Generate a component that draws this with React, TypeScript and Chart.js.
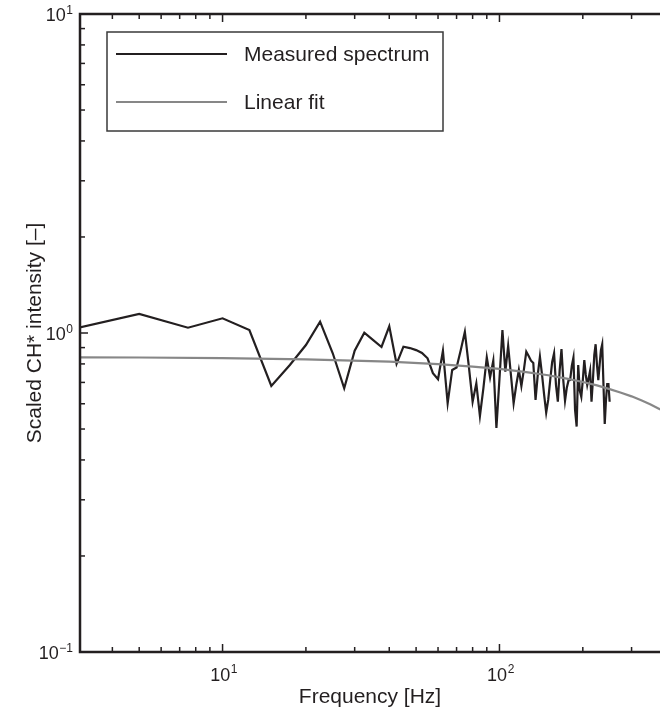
import { useEffect, useRef } from 'react';
import { Chart, registerables } from 'chart.js';

Chart.register(...registerables);

const FONT = '"Liberation Sans", Arial, Helvetica, sans-serif';
const INK = '#231f20';
const GREY = '#878787';

// Measured spectrum: frequency [Hz] and scaled CH* intensity
const freqHz = [
  2.5, 5, 7.5, 10, 12.5, 15, 17.5, 20, 22.5, 25,
  27.5, 30, 32.5, 35, 37.5, 40, 42.5, 45, 47.5, 50,
  52.5, 55, 57.5, 60, 62.5, 65, 67.5, 70, 72.5, 75,
  77.5, 80, 82.5, 85, 87.5, 90, 92.5, 95, 97.5, 100,
  102.5, 105, 107.5, 110, 112.5, 115, 117.5, 120, 122.5, 125,
  127.5, 130, 132.5, 135, 137.5, 140, 142.5, 145, 147.5, 150,
  152.5, 155, 157.5, 160, 162.5, 165, 167.5, 170, 172.5, 175,
  177.5, 180, 182.5, 185, 187.5, 190, 192.5, 195, 197.5, 200,
  202.5, 205, 207.5, 210, 212.5, 215, 217.5, 220, 222.5, 225,
  227.5, 230, 232.5, 235, 237.5, 240, 242.5, 245, 247.5, 250,
];
const measured = [
  1.0, 1.147, 1.039, 1.112, 1.022, 0.682, 0.794, 0.917, 1.085, 0.864,
  0.671, 0.88, 1.002, 0.95, 0.904, 1.05, 0.8, 0.906, 0.897, 0.884,
  0.866, 0.833, 0.748, 0.716, 0.88, 0.602, 0.766, 0.78, 0.884, 1.009,
  0.788, 0.609, 0.695, 0.549, 0.672, 0.839, 0.726, 0.819, 0.504, 0.718,
  1.022, 0.756, 0.912, 0.739, 0.602, 0.687, 0.766, 0.682, 0.766, 0.874,
  0.847, 0.819, 0.805, 0.617, 0.739, 0.843, 0.739, 0.64, 0.563, 0.617,
  0.712, 0.811, 0.864, 0.687, 0.609, 0.766, 0.891, 0.712, 0.613, 0.672,
  0.709, 0.712, 0.788, 0.837, 0.574, 0.509, 0.794, 0.66, 0.631, 0.712,
  0.823, 0.739, 0.687, 0.722, 0.762, 0.609, 0.712, 0.853, 0.922, 0.794,
  0.712, 0.794, 0.884, 0.922, 0.687, 0.519, 0.617, 0.692, 0.692, 0.609,
];

// Linear fit
const fitFreqHz = [2.5, 5, 10, 20, 40, 60, 80, 100, 125, 150, 175, 200, 225, 250, 275, 300, 325, 350, 375, 400];
const fitValues = [0.839, 0.838, 0.834, 0.827, 0.813, 0.799, 0.785, 0.772, 0.754, 0.737, 0.719, 0.702, 0.685, 0.667, 0.65, 0.633, 0.615, 0.598, 0.58, 0.563];

const seriesLabels = ['Measured spectrum', 'Linear fit'];

// Axes
const xMin = 3.056;
const xMax = 380;
const yMin = 0.1;
const yMax = 10;
const xMajorTicks = [10, 100];
const xMajorExponents = ['1', '2'];
const xMinorTicks = [4, 5, 6, 7, 8, 9, 20, 30, 40, 50, 60, 70, 80, 90, 200, 300];
const yMajorTicks = [0.1, 1, 10];
const yMajorExponents = ['\u22121', '0', '1'];
const yMinorTicks = [0.2, 0.3, 0.4, 0.5, 0.6, 0.7, 0.8, 0.9, 2, 3, 4, 5, 6, 7, 8, 9];

const xTitle = 'Frequency [Hz]';
const yTitle = 'Scaled CH* intensity [\u2013]';

const framePlugin = {
  id: 'inwardFrame',
  afterDatasetsDraw(chart: any) {
    const { ctx, chartArea: a, scales } = chart;
    const sx = scales.x;
    const sy = scales.y;
    ctx.save();
    ctx.strokeStyle = INK;
    ctx.fillStyle = INK;

    // frame (left, bottom, top; right edge lies outside the picture)
    ctx.lineWidth = 2.5;
    ctx.beginPath();
    ctx.moveTo(a.right + 4, a.top);
    ctx.lineTo(a.left, a.top);
    ctx.lineTo(a.left, a.bottom);
    ctx.lineTo(a.right + 4, a.bottom);
    ctx.stroke();

    ctx.lineWidth = 1.5;
    const seg = (x1: number, y1: number, x2: number, y2: number) => {
      ctx.beginPath();
      ctx.moveTo(x1, y1);
      ctx.lineTo(x2, y2);
      ctx.stroke();
    };
    xMajorTicks.forEach((v) => {
      const x = sx.getPixelForValue(v);
      seg(x, a.bottom, x, a.bottom - 8);
      seg(x, a.top, x, a.top + 8);
    });
    xMinorTicks.forEach((v) => {
      const x = sx.getPixelForValue(v);
      if (x < a.left || x > a.right) return;
      seg(x, a.bottom, x, a.bottom - 5);
      seg(x, a.top, x, a.top + 5);
    });
    yMajorTicks.forEach((v) => {
      const y = sy.getPixelForValue(v);
      seg(a.left, y, a.left + 8, y);
    });
    yMinorTicks.forEach((v) => {
      const y = sy.getPixelForValue(v);
      seg(a.left, y, a.left + 5, y);
    });

    // power-of-ten labels
    const baseFont = `18px ${FONT}`;
    const expFont = `12px ${FONT}`;
    ctx.textBaseline = 'middle';
    yMajorTicks.forEach((v, i) => {
      const y = sy.getPixelForValue(v) + 2.5;
      const exp = yMajorExponents[i];
      ctx.font = expFont;
      const ew = ctx.measureText(exp).width;
      const right = a.left - 7;
      ctx.textAlign = 'left';
      ctx.fillText(exp, right - ew, y - 6);
      ctx.font = baseFont;
      ctx.textAlign = 'right';
      ctx.fillText('10', right - ew - 0.5, y);
    });
    xMajorTicks.forEach((v, i) => {
      const x = sx.getPixelForValue(v);
      const y = 676;
      const exp = xMajorExponents[i];
      ctx.font = baseFont;
      const bw = ctx.measureText('10').width;
      ctx.font = expFont;
      const ew = ctx.measureText(exp).width;
      const start = x - (bw + ew) / 2 + 1;
      ctx.font = baseFont;
      ctx.textAlign = 'left';
      ctx.fillText('10', start, y);
      ctx.font = expFont;
      ctx.fillText(exp, start + bw + 0.5, y - 6);
    });

    // legend box
    const box = { l: 107, t: 32, r: 443, b: 131 };
    ctx.lineWidth = 1.5;
    ctx.strokeStyle = '#3a3a3a';
    ctx.fillStyle = '#ffffff';
    ctx.fillRect(box.l, box.t, box.r - box.l, box.b - box.t);
    ctx.strokeRect(box.l, box.t, box.r - box.l, box.b - box.t);
    const rows = [54, 102];
    chart.data.datasets.forEach((ds: any, i: number) => {
      const y = rows[i];
      ctx.strokeStyle = ds.borderColor;
      ctx.lineWidth = 2;
      seg(116, y, 227, y);
      ctx.fillStyle = INK;
      ctx.font = `21px ${FONT}`;
      ctx.textAlign = 'left';
      ctx.textBaseline = 'middle';
      ctx.fillText(ds.label, 244, y + 1);
    });
    ctx.restore();
  },
};

export default function App() {
  const ref = useRef<HTMLCanvasElement>(null);
  useEffect(() => {
    if (!ref.current) return;
    const chart = new Chart(ref.current, {
      type: 'line',
      data: {
        datasets: [
          {
            label: seriesLabels[0],
            data: freqHz.map((f, i) => ({ x: f, y: measured[i] })),
            borderColor: INK,
            borderWidth: 2.2,
            pointRadius: 0,
            tension: 0,
            order: 1,
          },
          {
            label: seriesLabels[1],
            data: fitFreqHz.map((f, i) => ({ x: f, y: fitValues[i] })),
            borderColor: GREY,
            borderWidth: 2.2,
            pointRadius: 0,
            tension: 0,
            order: 0,
          },
        ],
      },
      options: {
        responsive: true,
        maintainAspectRatio: false,
        animation: false,
        events: [],
        layout: { padding: { top: 14, right: 0, left: 0, bottom: 0 } },
        plugins: { legend: { display: false }, tooltip: { enabled: false } },
        scales: {
          x: {
            type: 'logarithmic',
            position: 'bottom',
            min: xMin,
            max: xMax,
            grid: { display: false },
            border: { display: false },
            ticks: { display: false },
            afterFit: (s: any) => {
              s.height = 61;
            },
            title: {
              display: true,
              text: xTitle,
              color: INK,
              font: { family: FONT, size: 21 },
              padding: { top: 0, bottom: 3 },
            },
          },
          y: {
            type: 'logarithmic',
            position: 'left',
            min: yMin,
            max: yMax,
            grid: { display: false },
            border: { display: false },
            ticks: { display: false },
            afterFit: (s: any) => {
              s.width = 80;
            },
            title: {
              display: true,
              text: yTitle,
              color: INK,
              font: { family: FONT, size: 21 },
              padding: { top: 23, bottom: 0 },
            },
          },
        },
      } as any,
      plugins: [framePlugin],
    });
    return () => chart.destroy();
  }, []);
  return (
    <div style={{ position: 'absolute', left: 0, top: 0, width: 660, height: 713, background: '#fff' }}>
      <canvas ref={ref} />
    </div>
  );
}
